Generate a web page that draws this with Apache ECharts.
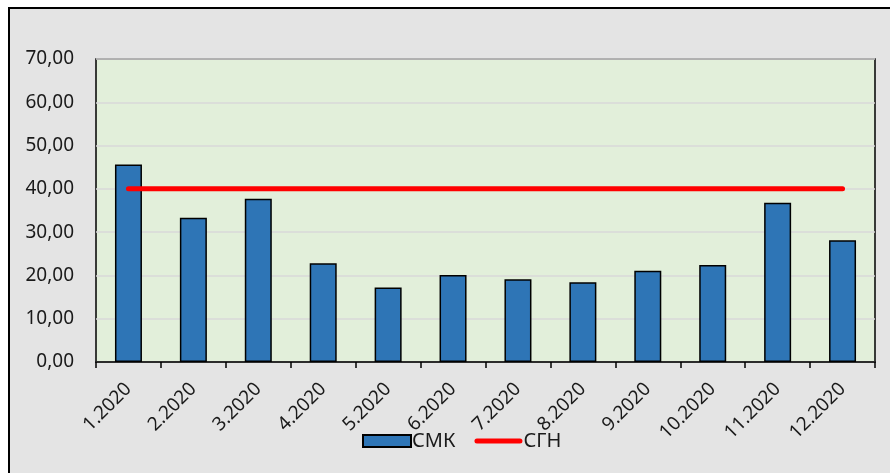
<!DOCTYPE html>
<html>
<head>
<meta charset="utf-8">
<script src="https://cdn.jsdelivr.net/npm/echarts@6/dist/echarts.min.js"></script>
<style>
  html, body { margin: 0; padding: 0; background: #fff; overflow: hidden; }
  #frame {
    position: absolute; left: 8px; top: 7px; width: 890px; height: 480px;
    border-top: 2px solid #000; border-left: 2px solid #000;
    background: #e4e4e4;
  }
  #chart { position: absolute; left: 0; top: 0; width: 890px; height: 473px; }
</style>
</head>
<body>
<div id="frame"></div>
<div id="chart"></div>
<script>
  // месяцы
  var months = ['1.2020', '2.2020', '3.2020', '4.2020', '5.2020', '6.2020',
                '7.2020', '8.2020', '9.2020', '10.2020', '11.2020', '12.2020'];
  // СМК
  var smk = [45.6, 33.3, 37.7, 22.8, 17.2, 20.1, 19.1, 18.4, 21.1, 22.4, 36.8, 28.1];
  // СГН
  var sgn = [40, 40, 40, 40, 40, 40, 40, 40, 40, 40, 40, 40];

  var font = 'Noto Sans';
  var myEchart = echarts.init(document.getElementById('chart'));
  var option = {
    animation: false,
    textStyle: { fontFamily: font },
    grid: {
      left: 96, top: 59, width: 779, height: 303,
      show: true,
      backgroundColor: '#e2efda',
      borderColor: '#000',
      borderWidth: 1.5
    },
    legend: {
      data: [
        { name: 'СМК', icon: 'rect' },
        // толстая красная линия без маркера
        { name: 'СГН', icon: 'path://M2.5,0 H45.5 A2.5,2.5 0 0 1 45.5,5 H2.5 A2.5,2.5 0 0 1 2.5,0 Z' }
      ],
      left: 357,
      top: 426,
      itemWidth: 48,
      itemHeight: 12,
      itemGap: 19,
      textStyle: { fontFamily: font, fontSize: 20, color: '#1a1a1a', padding: [0, 0, 0, -4] }
    },
    xAxis: {
      type: 'category',
      data: months,
      axisLine: { lineStyle: { color: '#000', width: 1.5 } },
      axisTick: { show: true, length: 6, lineStyle: { color: '#000', width: 1.5 } },
      axisLabel: {
        interval: 0,
        rotate: 45,
        margin: 24,
        fontFamily: font,
        fontSize: 19,
        color: '#1a1a1a'
      }
    },
    yAxis: {
      type: 'value',
      min: 0,
      max: 70,
      interval: 10,
      axisLine: { show: false },
      axisTick: { show: false },
      splitLine: { lineStyle: { color: '#d9d9d9', width: 1.5 } },
      axisLabel: {
        margin: 22,
        fontFamily: font,
        fontSize: 19,
        color: '#1a1a1a',
        formatter: function (v) { return v.toFixed(2).replace('.', ','); }
      }
    },
    series: [
      {
        name: 'СМК',
        type: 'bar',
        barWidth: 27,
        data: smk,
        itemStyle: { color: '#2e75b6', borderColor: '#000', borderWidth: 1.5 }
      },
      {
        name: 'СГН',
        type: 'line',
        data: sgn,
        symbol: 'none',
        lineStyle: { color: '#ff0000', width: 5, cap: 'round' },
        itemStyle: { color: '#ff0000' }
      }
    ]
  };
  myEchart.setOption(option);
</script>
</body>
</html>
